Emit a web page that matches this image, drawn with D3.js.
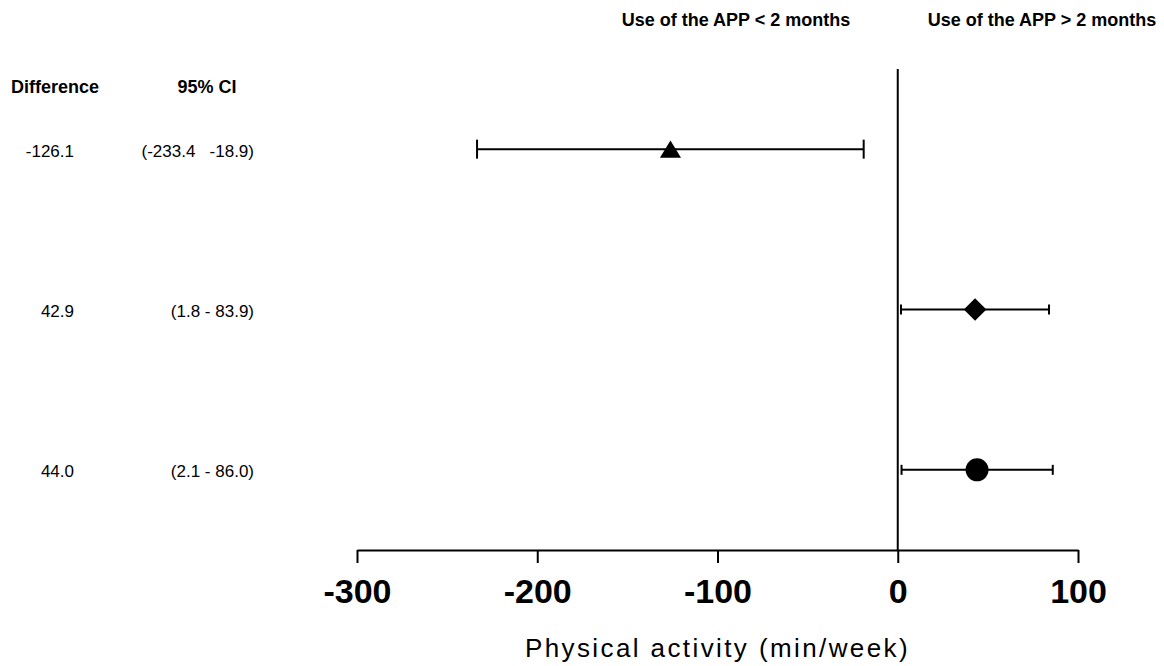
<!DOCTYPE html>
<meta charset="utf-8">

<script src="https://d3js.org/d3.v7.min.js"></script>

<style type="text/css">

body {
  margin: 0;
  background: #fff;
}

svg text {
  font-family: "Liberation Sans", Arial, sans-serif;
  fill: #000;
}

.axis path,
.axis line {
  stroke: #000;
  stroke-width: 2px;
}

.axis text {
  font-size: 34px;
  font-weight: bold;
}

.axisTitle {
  font-size: 26px;
  letter-spacing: 2.4px;
}

.header {
  font-size: 18px;
  font-weight: bold;
}

.rowText {
  font-size: 17px;
  white-space: pre;
}

/* error bars */
.ciLine {
  fill: none;
  stroke: #000;
  stroke-width: 2px;
}

</style>

<body>
</body>

<script>

// data
var rows = [0, 1, 2];
var estimates = [-126.1, 42.9, 44.0];
var lowerCI = [-233.4, 1.8, 2.1];
var upperCI = [-18.9, 83.9, 86.0];
var diffLabels = ['-126.1', '42.9', '44.0'];
var ciLabels = ['(-233.4   -18.9)', '(1.8 - 83.9)', '(2.1 - 86.0)'];
var xTicks = [-300, -200, -100, 0, 100];

// styling per row (marker shape + cap half height)
var markerTypes = ['triangle', 'diamond', 'circle'];
var capHalf = [9.5, 5, 5];

var width = 1164,
    height = 666;

var svg = d3.select('body').append('svg')
    .attr('width', width)
    .attr('height', height);

var xScale = d3.scaleLinear()
  .domain([-300, 100])
  .range([357, 1078]);

// rows sit on a linear index scale, zero line runs the full span
var yScale = d3.scaleLinear()
  .domain([-0.5, 2.5])
  .range([69, 550]);

var xAxis = d3.axisBottom(xScale)
  .tickValues(xTicks)
  .tickSize(13)
  .tickSizeOuter(0)
  .tickPadding(16)
  .tickFormat(function(d) { return String(d); }); // plain hyphen, not unicode minus

svg.append('g')
  .attr('class', 'x axis')
  .attr('transform', 'translate(0,' + yScale(2.5) + ')')
  .call(xAxis);

// vertical line at zero
svg.append('line')
  .attr('x1', xScale(0))
  .attr('x2', xScale(0))
  .attr('y1', yScale(-0.5))
  .attr('y2', yScale(2.5))
  .attr('stroke', '#000')
  .attr('stroke-width', 2);

// axis title, centred under the axis
svg.append('text')
  .attr('class', 'axisTitle')
  .attr('x', d3.mean(xScale.range()))
  .attr('y', 657)
  .attr('text-anchor', 'middle')
  .text('Physical activity (min/week)');

// headers
svg.append('text')
  .attr('class', 'header')
  .attr('x', 736)
  .attr('y', 26)
  .attr('text-anchor', 'middle')
  .text('Use of the APP < 2 months');

svg.append('text')
  .attr('class', 'header')
  .attr('x', 1042)
  .attr('y', 26)
  .attr('text-anchor', 'middle')
  .text('Use of the APP > 2 months');

svg.append('text')
  .attr('class', 'header')
  .attr('x', 55)
  .attr('y', 93)
  .attr('text-anchor', 'middle')
  .text('Difference');

svg.append('text')
  .attr('class', 'header')
  .attr('x', 207)
  .attr('y', 93)
  .attr('text-anchor', 'middle')
  .text('95% CI');

// build row objects from the arrays
var data = rows.map(function(i) {
  return {
    row: i,
    est: estimates[i],
    lo: lowerCI[i],
    hi: upperCI[i],
    diff: diffLabels[i],
    ci: ciLabels[i],
    marker: markerTypes[i],
    cap: capHalf[i]
  };
});

// custom triangle, centred on its bounding box
var triangleBox = {
  draw: function(context, size) {
    var h = Math.sqrt(size * 4 / Math.sqrt(3)) * Math.sqrt(3) / 2;
    var w = h / Math.sqrt(3);
    context.moveTo(0, -h / 2);
    context.lineTo(w * 1.05, h / 2);
    context.lineTo(-w * 1.05, h / 2);
    context.closePath();
  }
};

var symbols = {
  triangle: d3.symbol().type(triangleBox).size(175),
  diamond: d3.symbol().type(d3.symbolSquare).size(255),
  circle: d3.symbol().type(d3.symbolCircle).size(415)
};

var rowGroups = svg.selectAll('.rowGroup')
  .data(data)
  .enter().append('g')
  .attr('class', 'rowGroup');

// CI lines
rowGroups.append('line')
  .attr('class', 'ciLine')
  .attr('x1', function(d) { return xScale(d.lo); })
  .attr('x2', function(d) { return xScale(d.hi); })
  .attr('y1', function(d) { return yScale(d.row); })
  .attr('y2', function(d) { return yScale(d.row); });

// caps
rowGroups.append('line')
  .attr('class', 'ciLine')
  .attr('x1', function(d) { return xScale(d.lo); })
  .attr('x2', function(d) { return xScale(d.lo); })
  .attr('y1', function(d) { return yScale(d.row) - d.cap; })
  .attr('y2', function(d) { return yScale(d.row) + d.cap; });

rowGroups.append('line')
  .attr('class', 'ciLine')
  .attr('x1', function(d) { return xScale(d.hi); })
  .attr('x2', function(d) { return xScale(d.hi); })
  .attr('y1', function(d) { return yScale(d.row) - d.cap; })
  .attr('y2', function(d) { return yScale(d.row) + d.cap; });

// point estimates
rowGroups.append('path')
  .attr('d', function(d) { return symbols[d.marker](); })
  .attr('fill', '#000')
  .attr('transform', function(d) {
    var t = 'translate(' + xScale(d.est) + ',' + yScale(d.row) + ')';
    if (d.marker == 'diamond') t += ' rotate(45)';
    return t;
  });

// table text on the left
rowGroups.append('text')
  .attr('class', 'rowText')
  .attr('x', 74)
  .attr('y', function(d) { return yScale(d.row); })
  .attr('dy', '0.45em')
  .attr('text-anchor', 'end')
  .text(function(d) { return d.diff; });

rowGroups.append('text')
  .attr('class', 'rowText')
  .attr('x', 254)
  .attr('y', function(d) { return yScale(d.row); })
  .attr('dy', '0.45em')
  .attr('text-anchor', 'end')
  .text(function(d) { return d.ci; });

</script>
